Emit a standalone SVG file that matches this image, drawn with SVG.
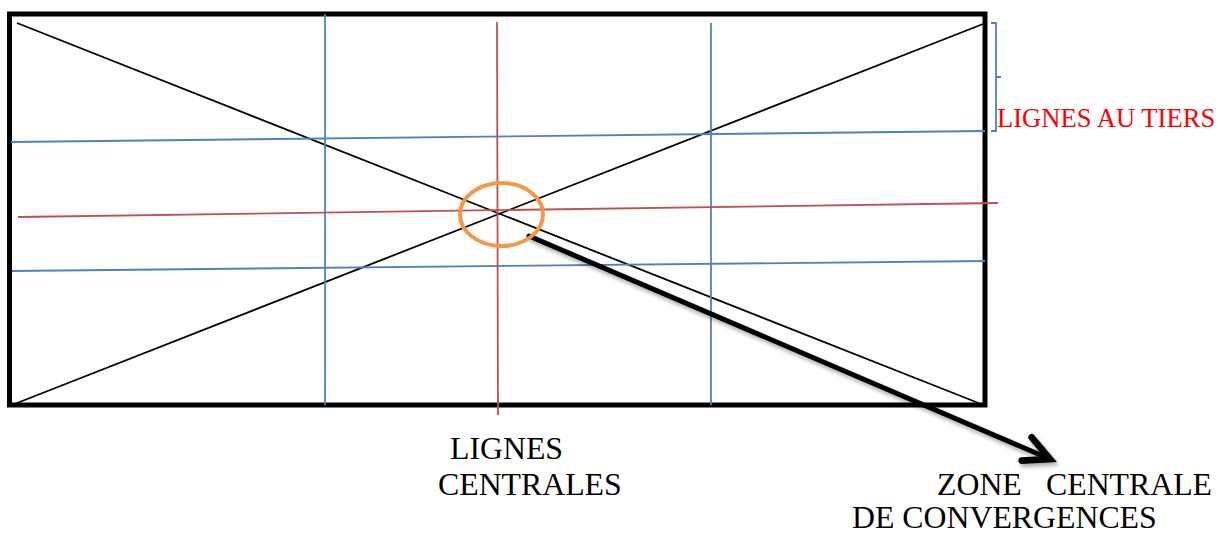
<svg xmlns="http://www.w3.org/2000/svg" width="1223" height="536" viewBox="0 0 1223 536">
<style>
.frame{fill:none;stroke:#000;stroke-width:5}
.diag{stroke:#000;stroke-width:1.8;fill:none}
.blue{stroke:#4F81BD;stroke-width:1.8;fill:none}
.red{stroke:#C0504D;stroke-width:1.8;fill:none}
.lbl{font-family:"Liberation Serif","Times New Roman",serif;font-size:31.8px;fill:#000}
.lblr{font-family:"Liberation Serif","Times New Roman",serif;font-size:26.6px;fill:#FF0000}
</style>
<defs>
<filter id="sh" x="-10%" y="-10%" width="130%" height="140%">
<feDropShadow dx="2" dy="3" stdDeviation="2" flood-color="#000" flood-opacity="0.35"/>
</filter>
<marker id="open" markerUnits="userSpaceOnUse" markerWidth="40" markerHeight="40" refX="0" refY="0" viewBox="-25 -15 30 30" orient="auto" overflow="visible">
<path d="M -19 -9.5 L 0 0 L -19 9.5" fill="none" stroke="#000" stroke-width="5" stroke-linecap="round" stroke-linejoin="miter"/>
</marker>
</defs>
<g id="frame">
<rect class="frame" x="9.5" y="14" width="975.5" height="391"/>
</g>
<g id="connectors">
<line class="diag" x1="17" y1="23" x2="981" y2="404"/>
<line class="diag" x1="12" y1="405" x2="983" y2="24"/>
<line class="blue" x1="325" y1="14" x2="325" y2="405"/>
<line class="blue" x1="711" y1="23" x2="711" y2="405"/>
<line class="red" x1="497" y1="22" x2="498" y2="415"/>
<line class="blue" x1="11" y1="142" x2="985" y2="131"/>
<line class="blue" x1="12" y1="271" x2="985" y2="261"/>
<line class="red" x1="18" y1="217" x2="998" y2="203"/>
<path class="blue" d="M 991 23 L 996 23 L 996 131 L 991 131 M 996 77 L 1001 77"/>
<line x1="529" y1="236" x2="1050" y2="459" stroke="#000" stroke-width="5" stroke-linecap="round" marker-end="url(#open)" filter="url(#sh)"/>
</g>
<g id="zone">
<ellipse cx="501.5" cy="214.5" rx="41.5" ry="31.5" fill="none" stroke="#F79646" stroke-width="4"/>
</g>
<g id="label-tiers">
<text class="lblr" x="997" y="127">LIGNES AU TIERS</text>
</g>
<g id="label-centrales">
<text class="lbl" x="450" y="459">LIGNES</text>
<text class="lbl" x="438" y="495">CENTRALES</text>
</g>
<g id="label-zone">
<text class="lbl" x="937" y="495">ZONE</text>
<text class="lbl" x="1046" y="495">CENTRALE</text>
<text class="lbl" x="852" y="528">DE CONVERGENCES</text>
</g>
</svg>
